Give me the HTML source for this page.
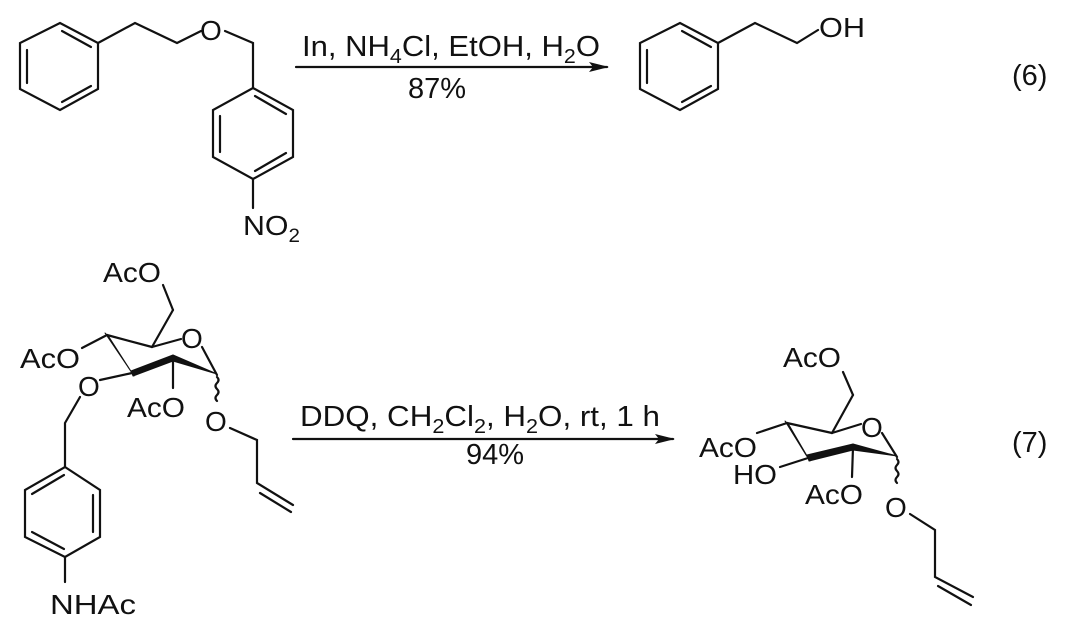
<!DOCTYPE html>
<html><head><style>body{margin:0;background:#fff}svg{display:block}text{font-family:"Liberation Sans",Arial,sans-serif;fill:#111}</style></head>
<body>
<svg width="1080" height="630" viewBox="0 0 1080 630" xmlns="http://www.w3.org/2000/svg">
<defs><marker id="ah" markerWidth="20" markerHeight="10" refX="18" refY="5" orient="auto" markerUnits="userSpaceOnUse"><path d="M0,0 L20,5 L0,10 L4,5 Z" fill="#111"/></marker></defs>
<g stroke="#111" stroke-width="2.2" fill="none" stroke-linecap="round">
<polygon points="60,23 98,43 98,89 60,110 20,89 20,43"/>
<line x1="27" y1="50" x2="27" y2="83"/><line x1="62" y1="31" x2="91" y2="47"/><line x1="62" y1="102" x2="91" y2="86"/>
<polyline points="98,43 135,23 177,43 201,31"/>
<polyline points="225,31 253,43 253,88"/>
<polygon points="253,88 293,110 293,157 253,179 213,157 213,110"/>
<line x1="220" y1="116" x2="220" y2="152"/><line x1="255" y1="96" x2="286" y2="114"/><line x1="255" y1="171" x2="286" y2="153"/>
<line x1="253" y1="179" x2="253" y2="208"/>
<polygon points="680,23 718,43 718,89 680,110 640,89 640,43"/>
<line x1="647" y1="50" x2="647" y2="83"/><line x1="682" y1="31" x2="711" y2="47"/><line x1="682" y1="102" x2="711" y2="86"/>
<polyline points="718,43 755,23 797,43 818,30"/>
<line x1="296" y1="67" x2="607" y2="67" marker-end="url(#ah)"/>
<line x1="293" y1="439" x2="673" y2="439" marker-end="url(#ah)"/>
<line x1="163" y1="285" x2="173" y2="310"/><line x1="173" y1="310" x2="152" y2="347"/>
<line x1="152" y1="347" x2="181" y2="339"/><line x1="202" y1="347" x2="217" y2="375"/>
<line x1="107" y1="335" x2="152" y2="347"/>
<line x1="107" y1="335" x2="82" y2="348"/>
<line x1="132" y1="373" x2="100" y2="380"/>
<line x1="173" y1="358" x2="173" y2="388"/>
<path d="M217,377 q3,3 0,6 q-3,3 0,6 q3,3 0,6 q-3,3 0,6"/>
<polyline points="230,428 257,440 257,483 293,505"/><line x1="260" y1="493" x2="291" y2="512"/>
<polyline points="80,397 65,423 65,467"/>
<polygon points="65,467 100,490 100,537 65,557 25,537 25,490"/>
<line x1="93" y1="495" x2="93" y2="532"/><line x1="64" y1="475" x2="32" y2="494"/><line x1="64" y1="549" x2="32" y2="532"/>
<line x1="65" y1="557" x2="65" y2="582"/>
<line x1="843" y1="372" x2="853" y2="395"/><line x1="853" y1="395" x2="832" y2="433"/>
<line x1="832" y1="433" x2="861" y2="424"/><line x1="882" y1="433" x2="897" y2="457"/>
<line x1="787" y1="423" x2="832" y2="433"/>
<line x1="787" y1="423" x2="757" y2="433"/>
<line x1="808" y1="458" x2="780" y2="467"/>
<line x1="853" y1="447" x2="852" y2="477"/>
<path d="M897,459 q3,3 0,6 q-3,3 0,6 q3,3 0,6 q-3,3 0,6"/>
<polyline points="910,514 935,530 935,577 973,597"/><line x1="938" y1="586" x2="971" y2="605"/>
</g>
<g fill="#111" stroke="#111" stroke-width="1" stroke-linejoin="round">
<polygon points="105,333 109,337 134,376 130,370"/>
<polygon points="131,371 173,355 173,361 133,376"/>
<polygon points="173,355 217,374 173,361"/>
<polygon points="785,421 789,425 810,461 806,455"/>
<polygon points="807,455 853,444 853,450 809,461"/>
<polygon points="853,444 897,456 853,450"/>
</g>
<g font-size="28">
<text x="200" y="40">O</text>
<text x="243" y="235" textLength="57" lengthAdjust="spacingAndGlyphs">NO<tspan font-size="19" dy="7">2</tspan></text>
<text x="302" y="56" textLength="298" lengthAdjust="spacingAndGlyphs" font-size="29">In, NH<tspan font-size="20" dy="7">4</tspan><tspan dy="-7">Cl, EtOH, H</tspan><tspan font-size="20" dy="7">2</tspan><tspan dy="-7">O</tspan></text>
<text x="437" y="98" text-anchor="middle" font-size="29">87%</text>
<text x="819" y="37" textLength="46" lengthAdjust="spacingAndGlyphs">OH</text>
<text x="1012" y="85" font-size="29">(6)</text>
<text x="103" y="282" textLength="58" lengthAdjust="spacingAndGlyphs">AcO</text>
<text x="181" y="348">O</text>
<text x="20" y="368" textLength="60" lengthAdjust="spacingAndGlyphs">AcO</text>
<text x="78" y="396">O</text>
<text x="127" y="417" textLength="58" lengthAdjust="spacingAndGlyphs">AcO</text>
<text x="205" y="431">O</text>
<text x="50" y="614" textLength="86" lengthAdjust="spacingAndGlyphs">NHAc</text>
<text x="300" y="426" textLength="360" lengthAdjust="spacingAndGlyphs" font-size="29">DDQ, CH<tspan font-size="20" dy="7">2</tspan><tspan dy="-7">Cl</tspan><tspan font-size="20" dy="7">2</tspan><tspan dy="-7">, H</tspan><tspan font-size="20" dy="7">2</tspan><tspan dy="-7">O, rt, 1 h</tspan></text>
<text x="495" y="464" text-anchor="middle" font-size="29">94%</text>
<text x="783" y="367" textLength="58" lengthAdjust="spacingAndGlyphs">AcO</text>
<text x="861" y="437">O</text>
<text x="699" y="457" textLength="58" lengthAdjust="spacingAndGlyphs">AcO</text>
<text x="733" y="484" textLength="44" lengthAdjust="spacingAndGlyphs">HO</text>
<text x="805" y="504" textLength="58" lengthAdjust="spacingAndGlyphs">AcO</text>
<text x="885" y="517">O</text>
<text x="1012" y="452" font-size="29">(7)</text>
</g>
</svg>
</body></html>
